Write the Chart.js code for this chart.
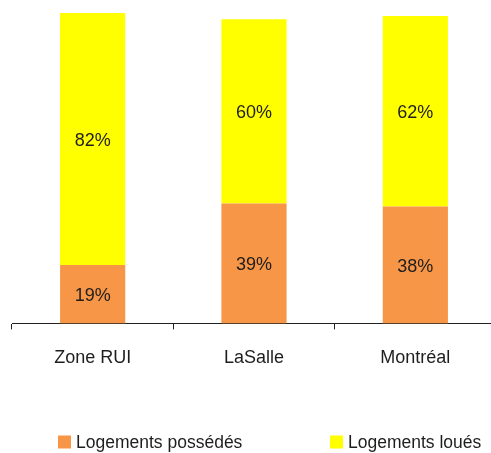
<!DOCTYPE html>
<html>
<head>
<meta charset="utf-8">
<script src="https://cdn.jsdelivr.net/npm/chart.js@4"></script>
<style>
  html, body { margin: 0; padding: 0; background: #fff; overflow: hidden; }
  #wrap { width: 496px; height: 453px; position: relative; }
</style>
</head>
<body>
<div id="wrap"><canvas id="logementsChart"></canvas></div>
<script>
// Données
const categories = ['Zone RUI', 'LaSalle', 'Montréal'];
const possedes = [19, 39, 38];
const loues = [82, 60, 62];
const seriesNames = ['Logements possédés', 'Logements loués'];

const FONT = "'Liberation Sans', Arial, sans-serif";
const TEXT = '#1e1e1e';

// Étiquettes de pourcentage au centre de chaque segment
const barLabels = {
    id: 'barLabels',
    afterDatasetsDraw(chart) {
        const ctx = chart.ctx;
        ctx.save();
        ctx.font = '18px ' + FONT;
        ctx.fillStyle = TEXT;
        ctx.textAlign = 'center';
        ctx.textBaseline = 'middle';
        chart.data.datasets.forEach((ds, i) => {
            chart.getDatasetMeta(i).data.forEach((bar, j) => {
                const mid = (bar.y + bar.base) / 2 + 2;
                ctx.fillText(ds.data[j] + '%', bar.x, mid);
            });
        });
        ctx.restore();
    }
};

// Légende en bas, deux éléments espacés
const bottomLegend = {
    id: 'bottomLegend',
    afterDraw(chart) {
        const ctx = chart.ctx;
        const area = chart.chartArea;
        const y = 442;
        const starts = [area.left + 46, area.left + 318];
        ctx.save();
        ctx.font = '17.5px ' + FONT;
        ctx.textBaseline = 'middle';
        ctx.textAlign = 'left';
        chart.data.datasets.forEach((ds, i) => {
            ctx.fillStyle = ds.backgroundColor;
            ctx.fillRect(starts[i], y - 6.5, 13, 13);
            ctx.fillStyle = TEXT;
            ctx.fillText(ds.label, starts[i] + 18, y + 1);
        });
        ctx.restore();
    }
};

new Chart(document.getElementById('logementsChart'), {
    type: 'bar',
    data: {
        labels: categories,
        datasets: [
            { label: seriesNames[0], data: possedes, backgroundColor: '#F79646' },
            { label: seriesNames[1], data: loues, backgroundColor: '#FFFF00' }
        ]
    },
    options: {
        responsive: true,
        maintainAspectRatio: false,
        animation: false,
        layout: { padding: { left: 12, right: 0, top: 13, bottom: 66 } },
        datasets: { bar: { categoryPercentage: 1, barPercentage: 0.404, borderWidth: 0 } },
        plugins: {
            legend: { display: false },
            tooltip: { enabled: false }
        },
        scales: {
            x: {
                stacked: true,
                offset: true,
                grid: {
                    offset: true,
                    drawOnChartArea: false,
                    drawTicks: true,
                    tickLength: 6,
                    color: '#222'
                },
                border: { display: true, color: '#222', width: 1 },
                ticks: {
                    color: TEXT,
                    font: { family: FONT, size: 18 },
                    padding: 18,
                    maxRotation: 0
                }
            },
            y: {
                stacked: true,
                display: false,
                min: 0,
                max: 101
            }
        }
    },
    plugins: [barLabels, bottomLegend]
});
</script>
</body>
</html>
